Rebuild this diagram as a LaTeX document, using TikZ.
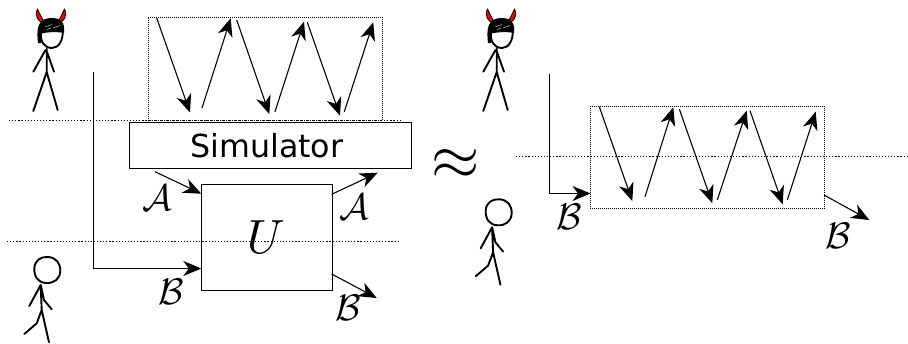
\documentclass[tikz,border=0pt]{standalone}
\usepackage{fontspec}
\setsansfont{DejaVu Sans}
\usetikzlibrary{arrows.meta}
\tikzset{
  x=1pt, y=-1pt,
  wire/.style={line width=1.1pt, -{Stealth[length=18pt,width=15pt,inset=5.5pt]}},
  block/.style={draw, line width=1pt, inner sep=0pt, anchor=north west},
  dotbox/.style={draw, line width=0.8pt, dash pattern=on 1pt off 1pt, inner sep=0pt, anchor=north west},
  divide/.style={line width=0.9pt, dash pattern=on 1.2pt off 1.9pt},
  reg/.style={inner sep=0pt, scale=3.7},
  limb/.style={line width=1.9pt, line cap=round, line join=round},
  pics/devil/.style={code={
    % horns
    \draw[fill=red, line width=0.9pt, line join=round]
      (37.5,9) .. controls (34.5,16) and (37.5,22) .. (45,23.5)
      .. controls (42,18) and (40,15) .. (37.5,9) -- cycle;
    \draw[fill=red, line width=0.9pt, line join=round]
      (64.5,9) .. controls (67.5,16) and (64.5,22) .. (57,23.5)
      .. controls (60,18) and (62,15) .. (64.5,9) -- cycle;
    % hair and face
    \fill[black] (38,43) .. controls (36.5,30) and (37,19) .. (50,18)
      .. controls (60,17.5) and (65.5,22) .. (64,33)
      .. controls (56,31.5) and (48,32) .. (41.5,33.5) -- (41,43) -- cycle;
    \draw[line width=1.9pt] (41,33) .. controls (40,41) and (44,48) .. (52,48)
      .. controls (59,48) and (63,40) .. (62.8,31);
    \draw[white, line width=0.35pt] (45,27) -- (52,24.5) (53,28) -- (60,25.5) (47,29.5) -- (51,28);
    % body
    \draw[limb] (46.7,48.5) -- (46.7,72) (46.7,72) -- (33.3,111)
      (46.7,72) -- (57.7,110)
      (45.5,50) -- (33.3,71.7) (47,52) -- (54,71.7);
  }},
  pics/plainperson/.style={code={
    \draw[limb] (34.3,268) .. controls (35,260) and (41,256.5) .. (48,257)
      .. controls (56,257.5) and (60.5,263) .. (60.3,271)
      .. controls (60,279) and (54,283.5) .. (46,283)
      .. controls (38,282.5) and (34,277) .. (34.3,268) -- cycle;
    \draw[limb] (40.7,285) -- (41.7,310) -- (36.7,323.3) -- (24.3,334)
      (41.7,310) -- (49,342.3)
      (40.7,285) -- (29.3,306) (41,286) -- (44,300) -- (51.7,309.3);
  }}
}
\begin{document}
\begin{tikzpicture}
\useasboundingbox (0,0) rectangle (908,343);

% horizontal trust boundaries
\coordinate (upL) at (9,120);   \coordinate (upR) at (402,120);
\coordinate (loL) at (7,241.7); \coordinate (loR) at (400,241.7);
\coordinate (riL) at (516,156.7); \coordinate (riR) at (908,156.7);
\draw[divide] (upL) -- (upR);
\draw[divide] (loL) -- (loR);
\draw[divide] (riL) -- (riR);

% left-hand composition
\node[dotbox, minimum width=234pt, minimum height=103.3pt] (rounds) at (147.5,16.7) {};
\node[block, minimum width=281.7pt, minimum height=46pt, font=\sffamily\fontsize{31.7}{36}\selectfont] (sim) at (129,122.3) {Simulator\kern7pt\relax};
\node[block, minimum width=130.4pt, minimum height=106pt] (ubox) at (201.3,184) {};
\node[inner sep=0pt, scale=4.8] (ulabel) at (266,237) {$U$};

\foreach \n/\fx/\fy/\tx/\ty in {
  la/156.7/18/190/112.5, lb/202/108/230.7/18.3, lc/236.7/20/269.3/114,
  ld/275/111.7/304/21.7, le/307.3/22.3/340/115.7, lf/344.3/111.7/373.3/22.3,
  ra/599.3/106.7/632.3/201, rb/645/196.7/673.3/107.3, rc/679.3/109/712.3/203.3,
  rd/717.3/200/746.7/110.7, re/750/110.7/782.7/204.3, rf/787.3/200/815.7/111.7}{
  \coordinate (\n s) at (\fx,\fy);
  \coordinate (\n t) at (\tx,\ty);
  \draw[wire] (\n s) -- (\n t);
}

% registers around the unitary
\coordinate (ainS) at (155,171.7);   \coordinate (ainT) at (201.3,193.7);
\coordinate (aoutS) at (331.7,194.3); \coordinate (aoutT) at (377.7,172.7);
\coordinate (boutS) at (331.7,274);  \coordinate (boutT) at (376.7,298);
\coordinate (binS) at (93.5,72);     \coordinate (binT) at (201.3,268.5);
\draw[wire] (ainS) -- (ainT);
\draw[wire] (aoutS) -- (aoutT);
\draw[wire] (boutS) -- (boutT);
\draw[wire] (binS) |- (binT);
\node[reg] (lblA1) at (157.7,197.7) {$\mathcal{A}$};
\node[reg] (lblA2) at (354,206.7) {$\mathcal{A}$};
\node[reg] (lblB1) at (171.7,291.7) {$\mathcal{B}$};
\node[reg] (lblB2) at (348.3,308.3) {$\mathcal{B}$};

\node[inner sep=0pt, scale=6.2] (approxsign) at (455.7,165) {$\approx$};

% right-hand composition
\node[dotbox, minimum width=234pt, minimum height=102.6pt] (ideal) at (590,105.7) {};
\coordinate (rinS) at (549.5,74);    \coordinate (rinT) at (590.5,193.5);
\coordinate (routS) at (824,195);    \coordinate (routT) at (869.3,220);
\draw[wire] (rinS) |- (rinT);
\draw[wire] (routS) -- (routT);
\node[reg] (lblB3) at (569.3,216.7) {$\mathcal{B}$};
\node[reg] (lblB4) at (838.3,235.7) {$\mathcal{B}$};

% participants
\pic at (0,0) {devil};
\pic at (450,0) {devil};
\pic at (0,0) {plainperson};
\pic at (451.4,-57.7) {plainperson};
\end{tikzpicture}
\end{document}
